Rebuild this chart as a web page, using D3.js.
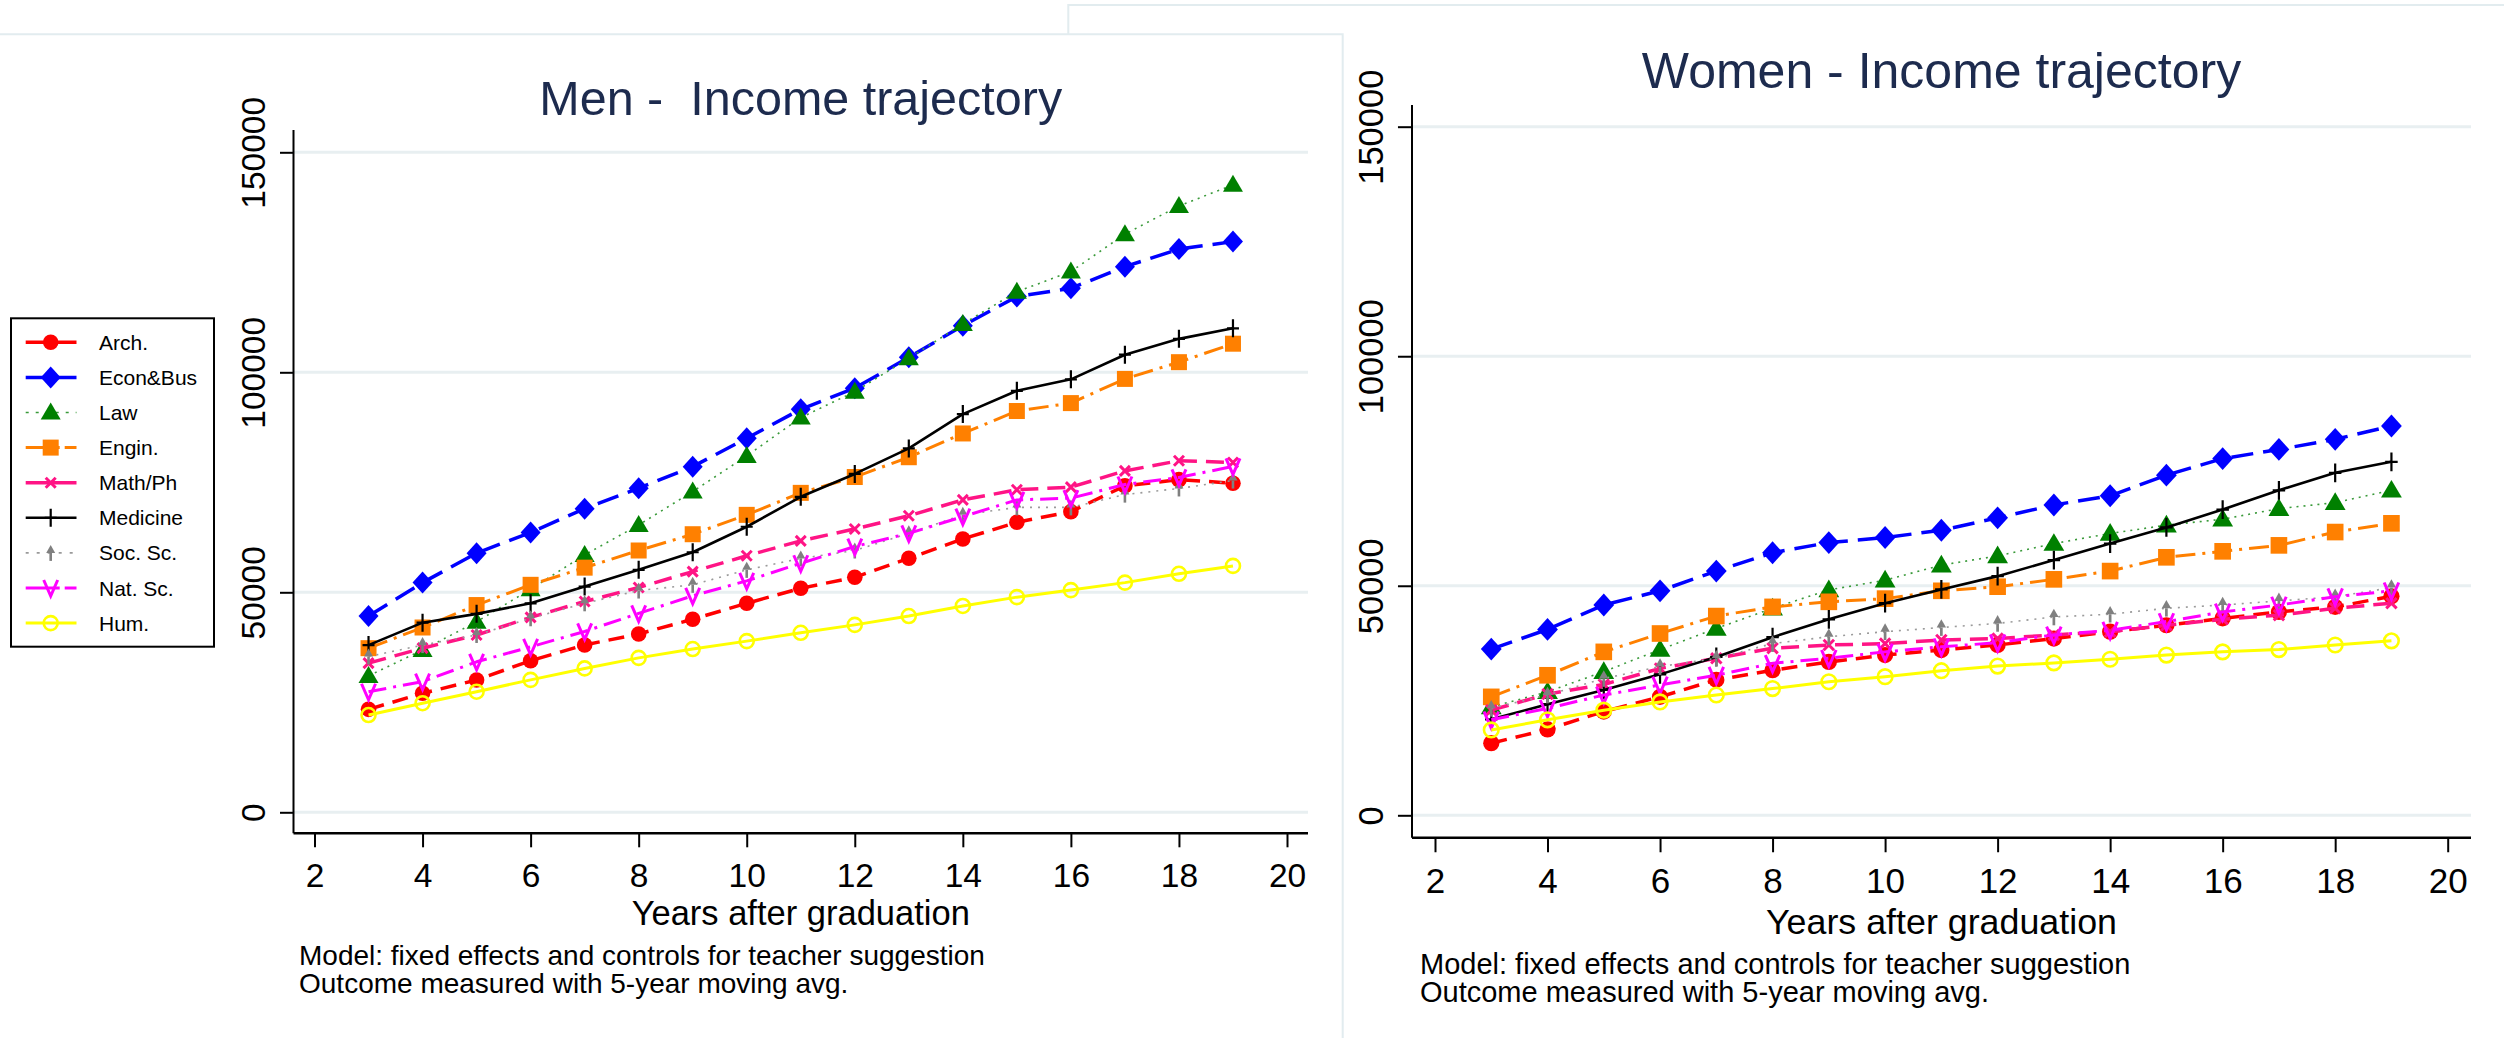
<!DOCTYPE html>
<html>
<head>
<meta charset="utf-8">
<script src="https://cdn.jsdelivr.net/npm/d3@7"></script>
<style>
  body { margin: 0; background: #ffffff; }
  svg { display: block; }
  text { font-family: "Liberation Sans", Arial, Helvetica, sans-serif; }
</style>
</head>
<body>
<svg id="chart" width="2504" height="1038"></svg>
<script>
// ---- data: mean income by field, years 3..19 after graduation ----
const years = [3, 4, 5, 6, 7, 8, 9, 10, 11, 12, 13, 14, 15, 16, 17, 18, 19];
const fields = ["Arch.", "Econ&Bus", "Law", "Engin.", "Math/Ph", "Medicine", "Soc. Sc.", "Nat. Sc.", "Hum."];
const xTicks = [2, 4, 6, 8, 10, 12, 14, 16, 18, 20];
const yTicks = [0, 50000, 100000, 150000];
const xTitle = "Years after graduation";
const noteLines = ["Model: fixed effects and controls for teacher suggestion",
                   "Outcome measured with 5-year moving avg."];

// Men
const menArch     = [23400, 27050, 30070, 34460, 38030, 40530, 43870, 47500, 50910, 53410, 57730, 62120, 65920, 68330, 74200, 75600, 74800];
const menEcon     = [44600, 52200, 58900, 63600, 69000, 73650, 78560, 85000, 91600, 96400, 103400, 110600, 117200, 119100, 124000, 128000, 129700];
const menLaw      = [31000, 36900, 43300, 50700, 58500, 65300, 72900, 81000, 89700, 95600, 103200, 111000, 118300, 122900, 131400, 137800, 142600];
const menEngin    = [37300, 42000, 47100, 51700, 55600, 59500, 63200, 67600, 72600, 76200, 80700, 86100, 91200, 93000, 98500, 102300, 106500];
const menMath     = [33900, 37300, 40300, 44300, 47900, 51100, 54700, 58300, 61700, 64400, 67400, 71000, 73300, 73900, 77600, 79900, 79500];
const menMedicine = [38000, 43100, 45100, 47500, 51300, 55100, 59100, 64900, 71700, 76900, 82700, 90500, 95800, 98400, 104000, 107600, 110000];
const menSoc      = [35400, 38000, 40300, 44100, 47500, 50400, 51700, 55100, 57700, 59500, 63400, 67600, 69300, 69300, 72200, 73600, 75400];
const menNat      = [27400, 29700, 34200, 37600, 41100, 45200, 49200, 52600, 56600, 60400, 63400, 67200, 71000, 71400, 74500, 76100, 78600];
const menHum      = [22100, 24800, 27400, 30100, 32700, 35100, 37100, 38900, 40800, 42600, 44600, 46900, 48900, 50500, 52200, 54200, 56000];

// Women
const womenArch     = [15700, 18700, 22600, 25800, 29500, 31600, 33400, 34900, 36000, 37100, 38500, 40000, 41400, 42900, 44300, 45400, 47700];
const womenEcon     = [36200, 40500, 45800, 48900, 53200, 57200, 59400, 60500, 62100, 64800, 67600, 69600, 74100, 77700, 79700, 81900, 84800];
const womenLaw      = [23600, 26900, 31300, 36100, 40700, 45100, 49100, 51200, 54500, 56500, 59200, 61400, 63200, 64500, 66800, 68100, 70800];
const womenEngin    = [25800, 30500, 35600, 39600, 43400, 45400, 46500, 47200, 48900, 49800, 51400, 53200, 56200, 57500, 58800, 61700, 63600];
const womenMath     = [22900, 26400, 28500, 32000, 34200, 36400, 37100, 37400, 38200, 38500, 39300, 40000, 41400, 42700, 43600, 45100, 46200];
const womenMedicine = [20900, 24200, 27300, 30700, 34500, 38800, 42700, 46200, 49200, 52100, 55600, 59200, 62700, 66600, 70800, 74600, 77000];
const womenSoc      = [23300, 26200, 29800, 32400, 34200, 37400, 38900, 40000, 40900, 41800, 43200, 43800, 45100, 45800, 46700, 47600, 49600];
const womenNat      = [20800, 23300, 26200, 28400, 30500, 33100, 34200, 35600, 36700, 37600, 39300, 40300, 42200, 44300, 45800, 47600, 48900];
const womenHum      = [18600, 20800, 22900, 24700, 26200, 27600, 29100, 30200, 31500, 32500, 33200, 34000, 34900, 35600, 36100, 37100, 38000];

const menSeries = [menArch, menEcon, menLaw, menEngin, menMath, menMedicine, menSoc, menNat, menHum];
const womenSeries = [womenArch, womenEcon, womenLaw, womenEngin, womenMath, womenMedicine, womenSoc, womenNat, womenHum];

// ---- line / marker styling per field ----
const styles = {
  "Arch.":    { color: "#ff0000", width: 3.5, dash: "16,9",        legendDash: null,      marker: "circle" },
  "Econ&Bus": { color: "#0000ff", width: 3.5, dash: "22,10",       legendDash: null,      marker: "diamond" },
  "Law":      { color: "#008000", width: 1.6, dash: "2,5",         legendDash: "3,7",     marker: "triangle", lineColor: "#3a9a3a" },
  "Engin.":   { color: "#ff8000", width: 3,   dash: "20,7,3,7",    legendDash: "34,5,40", marker: "square" },
  "Math/Ph":  { color: "#ff1485", width: 3.5, dash: "18,9",        legendDash: null,      marker: "x" },
  "Medicine": { color: "#000000", width: 2.6, dash: null,          legendDash: null,      marker: "plus" },
  "Soc. Sc.": { color: "#808080", width: 1.6, dash: "2,6",         legendDash: "3,8",     marker: "arrow", lineColor: "#9a9a9a" },
  "Nat. Sc.": { color: "#ff00ff", width: 3,   dash: "18,7,3,7",    legendDash: "34,5,40", marker: "v" },
  "Hum.":     { color: "#ffff00", width: 3,   dash: null,          legendDash: null,      marker: "ocircle" }
};

const GRID = "#e8eff1";
const FRAME = "#e2ecef";
const TITLE = "#1d2b4e";

const svg = d3.select("#chart");
svg.append("rect").attr("width", 2504).attr("height", 1038).attr("fill", "#fff");

// panel outlines
const frames = svg.append("g").attr("fill", "none").attr("stroke", FRAME).attr("stroke-width", 2);
frames.append("path").attr("d", "M1068.3,34 V5 H2504");
frames.append("path").attr("d", "M0,34.3 H1342.7 V1038");

function drawMarker(g, type, color, k) {
  const s = k;
  switch (type) {
    case "circle":
      g.append("circle").attr("r", 7.8 * s).attr("fill", color); break;
    case "diamond":
      g.append("path").attr("d", `M0,${-11 * s}L${10 * s},0L0,${11 * s}L${-10 * s},0Z`).attr("fill", color); break;
    case "triangle":
      g.append("path").attr("d", `M0,${-10 * s}L${10 * s},${7 * s}L${-10 * s},${7 * s}Z`).attr("fill", color); break;
    case "square":
      g.append("rect").attr("x", -8 * s).attr("y", -8 * s).attr("width", 16 * s).attr("height", 16 * s).attr("fill", color); break;
    case "x":
      g.append("path").attr("d", `M${-5 * s},${-5 * s}L${5 * s},${5 * s}M${-5 * s},${5 * s}L${5 * s},${-5 * s}`)
        .attr("stroke", color).attr("stroke-width", 3).attr("fill", "none"); break;
    case "plus":
      g.append("path").attr("d", `M0,${-9 * s}V${9 * s}M${-6 * s},0H${6 * s}`)
        .attr("stroke", color).attr("stroke-width", 2.2).attr("fill", "none"); break;
    case "arrow":
      g.append("path").attr("d", `M0,${-8 * s}L${4.5 * s},${0}L${-4.5 * s},${0}Z`).attr("fill", color);
      g.append("rect").attr("x", -1.3 * s).attr("y", 0).attr("width", 2.6 * s).attr("height", 8 * s).attr("fill", color); break;
    case "v":
      g.append("path").attr("d", `M${-7 * s},${-8 * s}L0,${8 * s}L${7 * s},${-8 * s}`)
        .attr("stroke", color).attr("stroke-width", 3).attr("fill", "none"); break;
    case "ocircle":
      g.append("circle").attr("r", 7 * s).attr("fill", "none").attr("stroke", color).attr("stroke-width", 2.6); break;
  }
}

function drawPanel(cfg, seriesList) {
  const k = cfg.k;
  const x = d3.scaleLinear().domain([2, 20]).range(cfg.xRange);
  const y = d3.scaleLinear().domain([0, 150000]).range(cfg.yRange);
  const g = svg.append("g");

  // horizontal grid
  g.append("g").selectAll("line").data(yTicks).join("line")
    .attr("x1", cfg.left).attr("x2", cfg.right)
    .attr("y1", d => y(d)).attr("y2", d => y(d))
    .attr("stroke", GRID).attr("stroke-width", 3);

  // y axis
  const yAxis = d3.axisLeft(y).tickValues(yTicks).tickSize(13.5 * k).tickPadding(0).tickFormat(d3.format("d"));
  const ya = g.append("g").attr("transform", `translate(${cfg.left},0)`).call(yAxis);
  ya.select(".domain").remove();
  ya.selectAll(".tick line").attr("stroke", "#000").attr("stroke-width", 2);
  ya.selectAll(".tick text").attr("fill", "#000")
    .style("font-size", cfg.yTickFont + "px")
    .attr("text-anchor", "middle").attr("x", null).attr("dy", null)
    .attr("transform", `translate(${-cfg.yLabelGap},0) rotate(-90)`);
  g.append("line").attr("x1", cfg.left).attr("x2", cfg.left)
    .attr("y1", cfg.top).attr("y2", cfg.bottom).attr("stroke", "#000").attr("stroke-width", 2);

  // x axis
  const xAxis = d3.axisBottom(x).tickValues(xTicks).tickSize(14 * k).tickPadding(0).tickFormat(d3.format("d"));
  const xa = g.append("g").attr("transform", `translate(0,${cfg.bottom})`).call(xAxis);
  xa.select(".domain").remove();
  xa.selectAll(".tick line").attr("stroke", "#000").attr("stroke-width", 2);
  xa.selectAll(".tick text").attr("fill", "#000")
    .style("font-size", cfg.xTickFont + "px")
    .attr("dy", null).attr("y", cfg.xLabelDrop);
  g.append("line").attr("x1", cfg.left).attr("x2", cfg.right)
    .attr("y1", cfg.bottom).attr("y2", cfg.bottom).attr("stroke", "#000").attr("stroke-width", 2.4);

  // titles and notes
  g.append("text").attr("x", (cfg.left + cfg.right) / 2).attr("y", cfg.titleY)
    .attr("text-anchor", "middle").style("white-space", "pre")
    .style("font-size", cfg.titleFont + "px").attr("fill", TITLE).text(cfg.title);
  g.append("text").attr("x", (cfg.left + cfg.right) / 2).attr("y", cfg.xTitleY)
    .attr("text-anchor", "middle").style("font-size", cfg.xTitleFont + "px").attr("fill", "#000").text(xTitle);
  g.selectAll("text.note").data(noteLines).join("text").attr("class", "note")
    .attr("x", cfg.noteX).attr("y", (d, i) => cfg.noteY + i * cfg.noteGap)
    .style("font-size", cfg.noteFont + "px").attr("fill", "#000").text(d => d);

  // series: lines then markers, in field order
  const line = d3.line().x(d => x(d.year)).y(d => y(d.value));
  fields.forEach((f, i) => {
    const st = styles[f];
    const pts = years.map((yr, j) => ({ year: yr, value: seriesList[i][j] }));
    const sg = g.append("g");
    sg.append("path").datum(pts).attr("d", line).attr("fill", "none")
      .attr("stroke", st.lineColor || st.color).attr("stroke-width", st.width)
      .attr("stroke-dasharray", st.dash).attr("stroke-linejoin", "round");
    pts.forEach(p => {
      const mg = sg.append("g").attr("transform", `translate(${x(p.year)},${y(p.value)})`);
      drawMarker(mg, st.marker, st.color, k);
    });
  });
}

// Men panel
drawPanel({
  k: 1, title: "Men -  Income trajectory",
  xRange: [314.5, 1287], yRange: [812.3, 152.3],
  left: 293.5, right: 1308, top: 130, bottom: 833.3,
  titleY: 115, titleFont: 48.5,
  yTickFont: 33.5, yLabelGap: 28.5, xTickFont: 33.5, xLabelDrop: 53.5,
  xTitleY: 925, xTitleFont: 34.5,
  noteX: 299, noteY: 964.5, noteGap: 28.4, noteFont: 28
}, menSeries);

// Women panel
drawPanel({
  k: 1.04, title: "Women - Income trajectory",
  xRange: [1435, 2447.7], yRange: [815.3, 126.7],
  left: 1412, right: 2471, top: 105, bottom: 837.7,
  titleY: 88.3, titleFont: 50,
  yTickFont: 34.5, yLabelGap: 29, xTickFont: 35, xLabelDrop: 55,
  xTitleY: 933.5, xTitleFont: 35.8,
  noteX: 1420, noteY: 973.5, noteGap: 28.3, noteFont: 29
}, womenSeries);

// Legend (men panel, left margin)
const leg = svg.append("g");
leg.append("rect").attr("x", 11).attr("y", 318.3).attr("width", 203).attr("height", 328.4)
  .attr("fill", "#fff").attr("stroke", "#000").attr("stroke-width", 2);
fields.forEach((f, i) => {
  const st = styles[f];
  const cy = 342.3 + i * 35.1;
  const row = leg.append("g");
  row.append("line").attr("x1", 25.7).attr("x2", 76.5).attr("y1", cy).attr("y2", cy)
    .attr("stroke", st.lineColor || st.color).attr("stroke-width", st.width)
    .attr("stroke-dasharray", st.legendDash);
  drawMarker(row.append("g").attr("transform", `translate(50.7,${cy})`), st.marker, st.color, 1);
  row.append("text").attr("x", 99).attr("y", cy + 7.5).style("font-size", "21px").attr("fill", "#000").text(f);
});
</script>
</body>
</html>
